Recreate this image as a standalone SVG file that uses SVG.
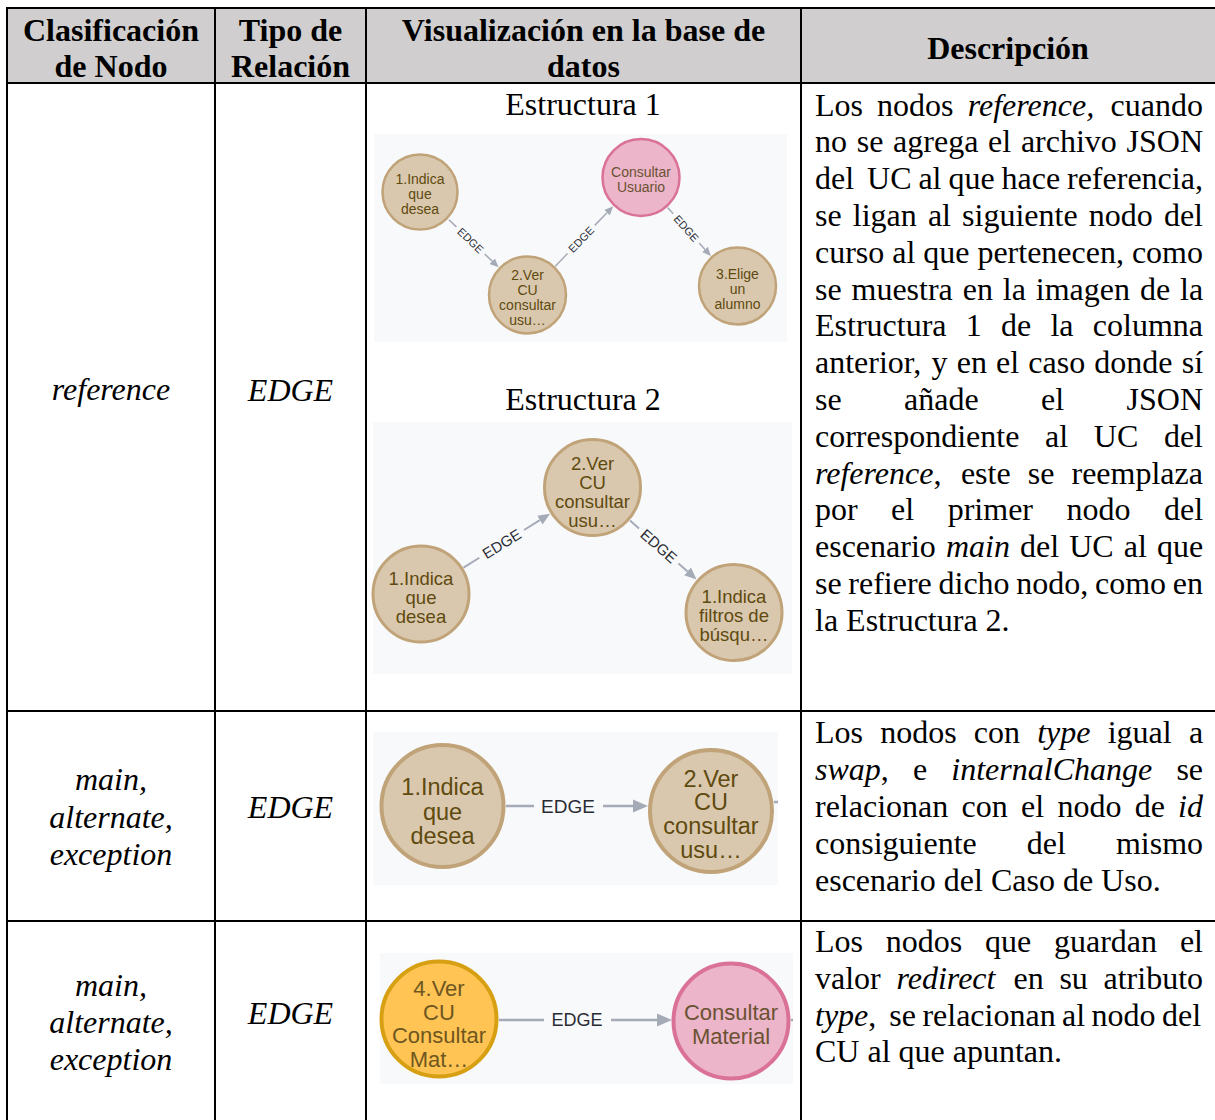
<svg xmlns="http://www.w3.org/2000/svg" width="1215" height="1120" viewBox="0 0 1215 1120">
  <style>
    .hd { font-family: "Liberation Serif", "Times New Roman", serif; font-weight: bold; font-size: 32px; fill: #000; text-anchor: middle; }
    .tx { font-family: "Liberation Serif", "Times New Roman", serif; font-size: 32px; fill: #000; }
    .mid { text-anchor: middle; }
    .it { font-style: italic; }
    .grid { stroke: #000; stroke-width: 2; fill: none; }
    .shot { fill: #f8f9fb; }
    .node text { font-family: "Liberation Sans", Arial, sans-serif; text-anchor: middle; }
    .tan circle { fill: #d9c8ae; stroke: #c0a378; }
    .tan text { fill: #604a0e; }
    .pink circle { fill: #ecb5c9; stroke: #da7298; }
    .pink text { fill: #6a5232; }
    .yellow circle { fill: #ffc454; stroke: #d7a013; }
    .yellow text { fill: #6e5620; }
    .rel line { stroke: #a5abb6; fill: none; }
    .rel text { font-family: "Liberation Sans", Arial, sans-serif; fill: #2a2c34; text-anchor: middle; }
  </style>
  <defs>
    <marker id="arrow" viewBox="0 0 6 6" refX="0" refY="3" markerWidth="6" markerHeight="6" orient="auto" markerUnits="strokeWidth">
      <path d="M0,0.4 L6,3 L0,5.6 z" fill="#a5abb6"/>
    </marker>
  </defs>

  <rect width="1215" height="1120" fill="#fff"/>

  <!-- table frame -->
  <g id="table">
    <rect x="7" y="8" width="1208" height="75" fill="#d0cece"/>
    <path class="grid" d="M7,8 H1215 M7,83 H1215 M7,711 H1215 M7,921 H1215 M7,7 V1120 M215,8 V1120 M366,8 V1120 M801,8 V1120"/>
  </g>

  <!-- header row -->
  <g id="header">
    <text class="hd" x="111" y="40.5">Clasificación</text>
    <text class="hd" x="111" y="77">de Nodo</text>
    <text class="hd" x="290.5" y="40.5">Tipo de</text>
    <text class="hd" x="290.5" y="77">Relación</text>
    <text class="hd" x="583.5" y="40.5">Visualización en la base de</text>
    <text class="hd" x="583.5" y="77">datos</text>
    <text class="hd" x="1008" y="58.5">Descripción</text>
  </g>

  <!-- first two columns -->
  <g id="classes">
    <text class="tx mid it" x="111" y="400">reference</text>
    <text class="tx mid it" x="290.5" y="401">EDGE</text>
    <text class="tx mid it" x="111" y="790">main,</text>
    <text class="tx mid it" x="111" y="827.5">alternate,</text>
    <text class="tx mid it" x="111" y="864.5">exception</text>
    <text class="tx mid it" x="290.5" y="818">EDGE</text>
    <text class="tx mid it" x="111" y="996">main,</text>
    <text class="tx mid it" x="111" y="1033">alternate,</text>
    <text class="tx mid it" x="111" y="1070">exception</text>
    <text class="tx mid it" x="290.5" y="1024">EDGE</text>
  </g>

  <!-- description column, justified word by word -->
  <g id="descriptions" class="tx">
    <text y="115.5"><tspan x="815">Los</tspan><tspan x="877.1">nodos</tspan><tspan x="967.7" class="it">reference,</tspan><tspan x="1110.6">cuando</tspan></text>
    <text y="152.3"><tspan x="815">no</tspan><tspan x="856.7">se</tspan><tspan x="893.1">agrega</tspan><tspan x="988.1">el</tspan><tspan x="1020.9">archivo</tspan><tspan x="1126.6">JSON</tspan></text>
    <text y="189.1"><tspan x="815">del</tspan><tspan x="867.1">UC</tspan><tspan x="918.4">al</tspan><tspan x="948.4">que</tspan><tspan x="1001.5">hace</tspan><tspan x="1067">referencia,</tspan></text>
    <text y="225.9"><tspan x="815">se</tspan><tspan x="852.8">ligan</tspan><tspan x="927.9">al</tspan><tspan x="962.1">siguiente</tspan><tspan x="1088.8">nodo</tspan><tspan x="1163.9">del</tspan></text>
    <text y="262.7"><tspan x="815">curso</tspan><tspan x="892.2">al</tspan><tspan x="923.2">que</tspan><tspan x="977.4">pertenecen,</tspan><tspan x="1131.9">como</tspan></text>
    <text y="299.5"><tspan x="815">se</tspan><tspan x="851.5">muestra</tspan><tspan x="962.7">en</tspan><tspan x="1002.8">la</tspan><tspan x="1035.8">imagen</tspan><tspan x="1139.9">de</tspan><tspan x="1180">la</tspan></text>
    <text y="336.3"><tspan x="815">Estructura</tspan><tspan x="965.7">1</tspan><tspan x="1001">de</tspan><tspan x="1050.4">la</tspan><tspan x="1092.8">columna</tspan></text>
    <text y="373.1"><tspan x="815">anterior,</tspan><tspan x="931.6">y</tspan><tspan x="956.8">en</tspan><tspan x="996.1">el</tspan><tspan x="1028.3">caso</tspan><tspan x="1094.3">donde</tspan><tspan x="1181.7">sí</tspan></text>
    <text y="409.9"><tspan x="815">se</tspan><tspan x="904.1">añade</tspan><tspan x="1041.1">el</tspan><tspan x="1126.6">JSON</tspan></text>
    <text y="446.7"><tspan x="815">correspondiente</tspan><tspan x="1045">al</tspan><tspan x="1093.8">UC</tspan><tspan x="1163.9">del</tspan></text>
    <text y="483.5"><tspan x="815" class="it">reference</tspan><tspan>,</tspan><tspan x="960.9">este</tspan><tspan x="1027.8">se</tspan><tspan x="1071.5">reemplaza</tspan></text>
    <text y="520.3"><tspan x="815">por</tspan><tspan x="891.1">el</tspan><tspan x="947.7">primer</tspan><tspan x="1066.5">nodo</tspan><tspan x="1164">del</tspan></text>
    <text y="557.1"><tspan x="815">escenario</tspan><tspan x="945.9" class="it">main</tspan><tspan x="1020">del</tspan><tspan x="1069.2">UC</tspan><tspan x="1123.7">al</tspan><tspan x="1156.9">que</tspan></text>
    <text y="593.9"><tspan x="815">se</tspan><tspan x="848.3">refiere</tspan><tspan x="938.5">dicho</tspan><tspan x="1016.3">nodo,</tspan><tspan x="1095">como</tspan><tspan x="1172.8">en</tspan></text>
    <text x="815" y="630.7">la Estructura 2.</text>

    <text y="743.3"><tspan x="815">Los</tspan><tspan x="880.2">nodos</tspan><tspan x="973.8">con</tspan><tspan x="1037.2" class="it">type</tspan><tspan x="1107.7">igual</tspan><tspan x="1188.9">a</tspan></text>
    <text y="780.1"><tspan x="815" class="it">swap</tspan><tspan>,</tspan><tspan x="913">e</tspan><tspan x="951.3" class="it">internalChange</tspan><tspan x="1176.4">se</tspan></text>
    <text y="816.9"><tspan x="815">relacionan</tspan><tspan x="961.6">con</tspan><tspan x="1021">el</tspan><tspan x="1057.4">nodo</tspan><tspan x="1134.7">de</tspan><tspan x="1178.1" class="it">id</tspan></text>
    <text y="853.7"><tspan x="815">consiguiente</tspan><tspan x="1026.8">del</tspan><tspan x="1115.9">mismo</tspan></text>
    <text x="815" y="890.5">escenario del Caso de Uso.</text>

    <text y="952"><tspan x="815">Los</tspan><tspan x="885.8">nodos</tspan><tspan x="985">que</tspan><tspan x="1054">guardan</tspan><tspan x="1179.9">el</tspan></text>
    <text y="988.8"><tspan x="815">valor</tspan><tspan x="896.5" class="it">redirect</tspan><tspan x="1013.5">en</tspan><tspan x="1059.4">su</tspan><tspan x="1103.5">atributo</tspan></text>
    <text y="1025.6"><tspan x="815" class="it">type</tspan><tspan>,</tspan><tspan x="889.3">se</tspan><tspan x="922.4">relacionan</tspan><tspan x="1062.1">al</tspan><tspan x="1091.6">nodo</tspan><tspan x="1162">del</tspan></text>
    <text x="815" y="1062.4">CU al que apuntan.</text>
  </g>

  <!-- graph captions and screenshot backgrounds -->
  <text class="tx mid" x="583" y="115">Estructura 1</text>
  <text class="tx mid" x="583" y="410">Estructura 2</text>
  <rect class="shot" x="374" y="134" width="413" height="208"/>
  <rect class="shot" x="373" y="422" width="419" height="252"/>
  <rect class="shot" x="373" y="732" width="405" height="153"/>
  <rect class="shot" x="380" y="953" width="413" height="131"/>

  <!-- relationships -->
  <g id="connectors" class="rel">
    <!-- Estructura 1 -->
    <g transform="translate(420,192) rotate(43.77)">
      <line x1="40" y1="0" x2="50.4" y2="0" stroke-width="1.5"/>
      <line x1="89.6" y1="0" x2="99.9" y2="0" stroke-width="1.5" marker-end="url(#arrow)"/>
      <text x="70" y="3.9" font-size="11">EDGE</text>
    </g>
    <g transform="translate(527.5,295) rotate(-45.99)">
      <line x1="40" y1="0" x2="57.6" y2="0" stroke-width="1.5"/>
      <line x1="96.8" y1="0" x2="114.4" y2="0" stroke-width="1.5" marker-end="url(#arrow)"/>
      <text x="77.2" y="3.9" font-size="11">EDGE</text>
    </g>
    <g transform="translate(641,177.5) rotate(48.35)">
      <line x1="40" y1="0" x2="48.5" y2="0" stroke-width="1.5"/>
      <line x1="87.7" y1="0" x2="96.2" y2="0" stroke-width="1.5" marker-end="url(#arrow)"/>
      <text x="68.1" y="3.9" font-size="11">EDGE</text>
    </g>
    <!-- Estructura 2 -->
    <g transform="translate(421,594) rotate(-31.84)">
      <line x1="50" y1="0" x2="68.7" y2="0" stroke-width="2"/>
      <line x1="121.3" y1="0" x2="139.9" y2="0" stroke-width="2" marker-end="url(#arrow)"/>
      <text x="95" y="5.3" font-size="15">EDGE</text>
    </g>
    <g transform="translate(592.5,487.5) rotate(41.45)">
      <line x1="50" y1="0" x2="62.1" y2="0" stroke-width="2"/>
      <line x1="114.7" y1="0" x2="126.8" y2="0" stroke-width="2" marker-end="url(#arrow)"/>
      <text x="88.4" y="5.3" font-size="15">EDGE</text>
    </g>
    <!-- second row -->
    <line x1="506" y1="806" x2="534" y2="806" stroke-width="2.5"/>
    <line x1="603" y1="806" x2="633" y2="806" stroke-width="2.5" marker-end="url(#arrow)"/>
    <text x="568" y="812.7" font-size="19">EDGE</text>
    <line x1="774" y1="802" x2="778" y2="802" stroke-width="2.5"/>
    <!-- third row -->
    <line x1="499" y1="1020" x2="544" y2="1020" stroke-width="2.5"/>
    <line x1="611" y1="1020" x2="657" y2="1020" stroke-width="2.5" marker-end="url(#arrow)"/>
    <text x="577" y="1026.3" font-size="18">EDGE</text>
    <line x1="791" y1="1020" x2="793" y2="1020" stroke-width="2.5"/>
  </g>

  <!-- Estructura 1 nodes -->
  <g id="e1-indica" class="node tan" font-size="14">
    <circle cx="420" cy="192" r="37.5" stroke-width="2.5"/>
    <text x="420" y="184">1.Indica</text>
    <text x="420" y="199">que</text>
    <text x="420" y="214">desea</text>
  </g>
  <g id="e1-ver-cu" class="node tan" font-size="14">
    <circle cx="527.5" cy="295" r="38.5" stroke-width="2.5"/>
    <text x="527.5" y="280">2.Ver</text>
    <text x="527.5" y="295">CU</text>
    <text x="527.5" y="310">consultar</text>
    <text x="527.5" y="325">usu…</text>
  </g>
  <g id="e1-consultar-usuario" class="node pink" font-size="14">
    <circle cx="641" cy="177.5" r="38.5" stroke-width="2.5"/>
    <text x="641" y="177">Consultar</text>
    <text x="641" y="192">Usuario</text>
  </g>
  <g id="e1-elige" class="node tan" font-size="14">
    <circle cx="737.5" cy="286" r="38.5" stroke-width="2.5"/>
    <text x="737.5" y="279">3.Elige</text>
    <text x="737.5" y="294">un</text>
    <text x="737.5" y="309">alumno</text>
  </g>

  <!-- Estructura 2 nodes -->
  <g id="e2-indica" class="node tan" font-size="18.5">
    <circle cx="421" cy="594" r="48" stroke-width="3"/>
    <text x="421" y="584.5">1.Indica</text>
    <text x="421" y="603.5">que</text>
    <text x="421" y="622.5">desea</text>
  </g>
  <g id="e2-ver-cu" class="node tan" font-size="18.5">
    <circle cx="592.5" cy="487.5" r="48" stroke-width="3"/>
    <text x="592.5" y="469.5">2.Ver</text>
    <text x="592.5" y="488.5">CU</text>
    <text x="592.5" y="507.5">consultar</text>
    <text x="592.5" y="526.5">usu…</text>
  </g>
  <g id="e2-indica-filtros" class="node tan" font-size="18.5">
    <circle cx="734" cy="612.5" r="48" stroke-width="3"/>
    <text x="734" y="603">1.Indica</text>
    <text x="734" y="622">filtros de</text>
    <text x="734" y="641">búsqu…</text>
  </g>

  <!-- second row nodes -->
  <g id="r2-indica" class="node tan" font-size="23.5">
    <circle cx="442.5" cy="806" r="61" stroke-width="4"/>
    <text x="442.5" y="795">1.Indica</text>
    <text x="442.5" y="819.5">que</text>
    <text x="442.5" y="843.5">desea</text>
  </g>
  <g id="r2-ver-cu" class="node tan" font-size="23.5">
    <circle cx="711" cy="811" r="61" stroke-width="4"/>
    <text x="711" y="786.5">2.Ver</text>
    <text x="711" y="810">CU</text>
    <text x="711" y="833.5">consultar</text>
    <text x="711" y="858">usu…</text>
  </g>

  <!-- third row nodes -->
  <g id="r3-ver-cu" class="node yellow" font-size="22">
    <circle cx="439" cy="1019" r="57.5" stroke-width="4"/>
    <text x="439" y="996">4.Ver</text>
    <text x="439" y="1019.5">CU</text>
    <text x="439" y="1043">Consultar</text>
    <text x="439" y="1066.5">Mat…</text>
  </g>
  <g id="r3-consultar-material" class="node pink" font-size="22">
    <circle cx="731" cy="1021" r="57.5" stroke-width="4"/>
    <text x="731" y="1020">Consultar</text>
    <text x="731" y="1043.5">Material</text>
  </g>
</svg>
